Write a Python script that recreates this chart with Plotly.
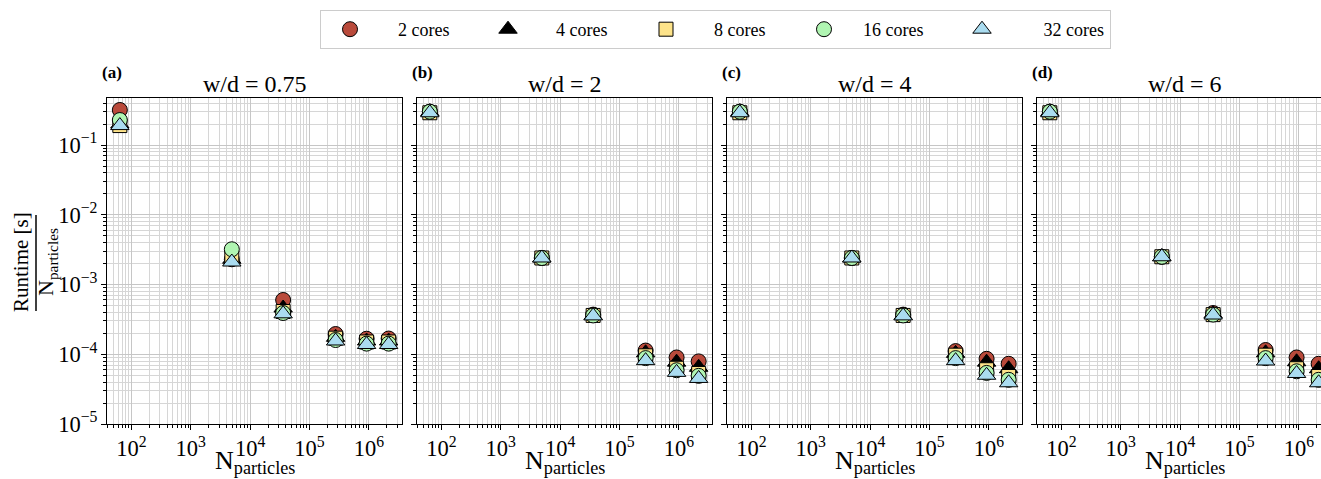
import plotly.graph_objects as go

# ---------------- data ----------------
N = [64, 4913, 35937, 274625, 912673, 2146689]
ratios = ["0.75", "2", "4", "6"]
panel_tags = ["(a)", "(b)", "(c)", "(d)"]
core_names = ["2 cores", "4 cores", "8 cores", "16 cores", "32 cores"]

# runtime / N_particles  [s], per panel, per core count
a_2 = [0.318, 2.3e-3, 6.0e-4, 1.95e-4, 1.67e-4, 1.68e-4]
a_4 = [0.20, 2.3e-3, 4.6e-4, 1.75e-4, 1.55e-4, 1.55e-4]
a_8 = [0.19, 2.4e-3, 4.1e-4, 1.7e-4, 1.5e-4, 1.5e-4]
a_16 = [0.228, 3.2e-3, 3.9e-4, 1.6e-4, 1.42e-4, 1.42e-4]
a_32 = [0.19, 2.1e-3, 3.8e-4, 1.55e-4, 1.38e-4, 1.38e-4]

b_2 = [0.30, 2.4e-3, 3.7e-4, 1.13e-4, 9.0e-5, 7.9e-5]
b_4 = [0.30, 2.4e-3, 3.6e-4, 1.05e-4, 7.7e-5, 6.5e-5]
b_8 = [0.29, 2.4e-3, 3.6e-4, 9.5e-5, 6.3e-5, 5.3e-5]
b_16 = [0.30, 2.4e-3, 3.6e-4, 8.8e-5, 5.9e-5, 4.9e-5]
b_32 = [0.29, 2.4e-3, 3.55e-4, 8.1e-5, 5.5e-5, 4.5e-5]

c_2 = [0.30, 2.4e-3, 3.7e-4, 1.11e-4, 8.6e-5, 7.3e-5]
c_4 = [0.30, 2.4e-3, 3.6e-4, 1.03e-4, 7.7e-5, 6.2e-5]
c_8 = [0.29, 2.4e-3, 3.6e-4, 9.7e-5, 6.0e-5, 4.8e-5]
c_16 = [0.30, 2.4e-3, 3.6e-4, 8.8e-5, 5.4e-5, 4.3e-5]
c_32 = [0.29, 2.4e-3, 3.55e-4, 8.1e-5, 5.0e-5, 3.9e-5]

d_2 = [0.30, 2.5e-3, 3.9e-4, 1.15e-4, 9.0e-5, 7.3e-5]
d_4 = [0.30, 2.5e-3, 3.8e-4, 1.05e-4, 7.8e-5, 6.2e-5]
d_8 = [0.29, 2.5e-3, 3.7e-4, 9.7e-5, 6.2e-5, 4.8e-5]
d_16 = [0.30, 2.5e-3, 3.7e-4, 8.8e-5, 5.7e-5, 4.3e-5]
d_32 = [0.29, 2.5e-3, 3.65e-4, 8.0e-5, 5.3e-5, 3.9e-5]

panels = [
    [a_2, a_4, a_8, a_16, a_32],
    [b_2, b_4, b_8, b_16, b_32],
    [c_2, c_4, c_8, c_16, c_32],
    [d_2, d_4, d_8, d_16, d_32],
]

# ---------------- style ----------------
W, H = 1321, 479
FONT = "Liberation Serif, Times New Roman, serif"
symbols = ["circle", "triangle-up", "square", "circle", "triangle-up"]
colors = ["#b94a3b", "#000000", "#fde38a", "#b0f5b2", "#aadcf0"]
sizes = [15, 16, 14, 15, 16]
NB = "\u00a0"
legend_pad = [4, 4, 4, 2, 7]

def px_x(p):
    return p / W

def px_y(p):
    return 1 - p / H

fig = go.Figure()

for pi, series in enumerate(panels):
    ax = "" if pi == 0 else str(pi + 1)
    for ci, vals in enumerate(series):
        fig.add_trace(go.Scatter(
            x=N, y=vals, mode="markers",
            name=NB * legend_pad[ci] + core_names[ci], legendgroup=core_names[ci],
            showlegend=(pi == 0),
            marker=dict(symbol=symbols[ci], size=sizes[ci], color=colors[ci],
                        line=dict(color="black", width=1)),
            xaxis="x" + ax, yaxis="y" + ax,
        ))

layout = dict(
    width=W, height=H,
    margin=dict(l=0, r=0, t=0, b=0),
    paper_bgcolor="white", plot_bgcolor="white",
    font=dict(family=FONT, size=18, color="black"),
    legend=dict(
        orientation="h", x=px_x(715.5), xanchor="center", y=px_y(10), yanchor="top",
        bordercolor="#cccccc", borderwidth=1,
        font=dict(family=FONT, size=18),
        itemwidth=50, entrywidth=93, entrywidthmode="pixels",
    ),
    showlegend=True,
)

x_left0 = 107
pitch = 310
pw = 295
decade = 59.4
xr0 = 1.59
y_range = [-5, -0.326]
y_dom = [1 - 424 / H, 1 - 98 / H]

annotations = []
for pi in range(4):
    ax = "" if pi == 0 else str(pi + 1)
    x0 = x_left0 + pitch * pi
    x1 = min(x0 + pw, W)
    xr1 = xr0 + (x1 - x0) / decade
    common = dict(
        showline=True, linecolor="black", linewidth=1,
        ticks="outside", ticklen=5, tickcolor="black", tickwidth=1,
        showgrid=True, gridcolor="#c6c6c6", gridwidth=1,
        zeroline=False, automargin=False,
        exponentformat="power", dtick=1,
        minor=dict(ticks="outside", ticklen=3, tickcolor="black",
                   showgrid=True, gridcolor="#d6d6d6", gridwidth=1, dtick="D1"),
        tickfont=dict(family=FONT, size=18),
    )
    layout["xaxis" + ax] = dict(
        common, type="log", range=[xr0, xr1],
        domain=[px_x(x0), px_x(x1)], anchor="y" + ax, mirror=True,
    )
    layout["yaxis" + ax] = dict(
        common, type="log", range=y_range, domain=y_dom, anchor="x" + ax,
        mirror=(pi < 3), showticklabels=(pi == 0),
    )
    cx = (x0 + x0 + pw) / 2
    annotations.append(dict(
        text="w/d = " + ratios[pi], x=px_x(cx), y=px_y(84), xref="paper", yref="paper",
        xanchor="center", yanchor="middle", showarrow=False,
        font=dict(family=FONT, size=24),
    ))
    annotations.append(dict(
        text="<b>" + panel_tags[pi] + "</b>", x=px_x(x0 - 7), y=px_y(72), xref="paper", yref="paper",
        xanchor="left", yanchor="middle", showarrow=False,
        font=dict(family=FONT, size=17),
    ))
    # x-axis title (as annotation so it can sit below the tick labels)
    annotations.append(dict(
        text="N<sub>particles</sub>", x=px_x(cx), y=px_y(462), xref="paper", yref="paper",
        xanchor="center", yanchor="middle", showarrow=False,
        font=dict(family=FONT, size=26),
    ))

annotations.append(dict(
    text="Runtime [s]", x=px_x(21), y=px_y(262), xref="paper", yref="paper",
    xanchor="center", yanchor="middle", showarrow=False, textangle=-90,
    font=dict(family=FONT, size=21),
))
annotations.append(dict(
    text="N<sub>particles</sub>", x=px_x(47), y=px_y(262), xref="paper", yref="paper",
    xanchor="center", yanchor="middle", showarrow=False, textangle=-90,
    font=dict(family=FONT, size=22),
))
layout["annotations"] = annotations
layout["shapes"] = [dict(
    type="line", xref="paper", yref="paper",
    x0=px_x(36), x1=px_x(36), y0=px_y(215), y1=px_y(311),
    line=dict(color="black", width=1.5),
)]

fig.update_layout(**layout)
fig.write_html("out.html")
